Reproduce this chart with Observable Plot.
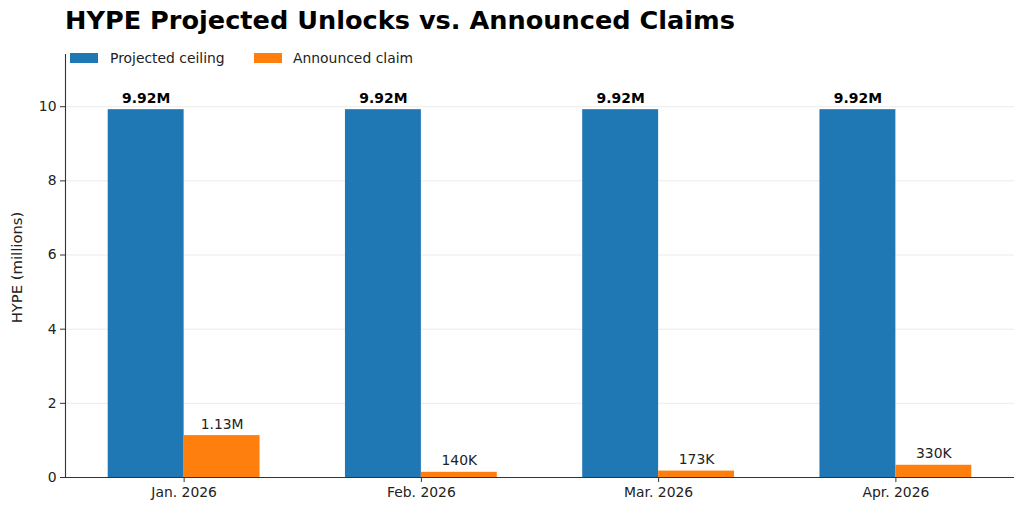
<!DOCTYPE html>
<html>
<head>
<meta charset="utf-8">
<script src="https://cdn.jsdelivr.net/npm/d3@7"></script>
<script src="https://cdn.jsdelivr.net/npm/@observablehq/plot@0.6"></script>
<style>
  html, body { margin: 0; padding: 0; background: #fff; }
  #wrap { position: relative; width: 1024px; height: 509px; font-family: "DejaVu Sans", sans-serif; overflow: hidden; }
  #title { height: 32px; padding-top: 8px; padding-left: 65px; font-size: 25.6px; line-height: 25px; font-weight: bold; color: #000; white-space: nowrap; }
  .sw { position: absolute; width: 28px; height: 9.5px; }
  .lt { position: absolute; font-size: 13.9px; line-height: 14px; color: #222; white-space: nowrap; }
  svg { display: block; }
</style>
</head>
<body>
<div id="wrap">
  <div id="title">HYPE Projected Unlocks vs. Announced Claims</div>
  <div id="chart"></div>
</div>
<script>
const months = ["Jan. 2026", "Feb. 2026", "Mar. 2026", "Apr. 2026"];
const seriesNames = ["Projected ceiling", "Announced claim"];
const seriesColors = ["#1f77b4", "#ff7f0e"];
const ceilingValues = [9.92, 9.92, 9.92, 9.92];
const claimValues = [1.13, 0.14, 0.173, 0.33];
const ceilingLabels = ["9.92M", "9.92M", "9.92M", "9.92M"];
const claimLabels = ["1.13M", "140K", "173K", "330K"];
const yTicks = [0, 2, 4, 6, 8, 10];
const yLabel = "HYPE (millions)";

const barW = 0.32;
const rows = [];
months.forEach((m, i) => {
  rows.push({i, series: seriesNames[0], value: ceilingValues[i], label: ceilingLabels[i], x1: i - barW, x2: i, bold: true});
  rows.push({i, series: seriesNames[1], value: claimValues[i], label: claimLabels[i], x1: i, x2: i + barW, bold: false});
});

const font = "DejaVu Sans, sans-serif";
const chart = Plot.plot({
  width: 1024,
  height: 469,
  marginTop: 14,
  marginBottom: 32,
  marginLeft: 65,
  marginRight: 10,
  style: {fontFamily: font, fontSize: "13.9px", color: "#222", background: "#fff"},
  x: {type: "linear", domain: [-0.5, 3.5]},
  y: {domain: [0, 11.408]},
  color: {domain: seriesNames, range: seriesColors},
  marks: [
    Plot.gridY(yTicks.filter(d => d > 0), {stroke: "#ebebeb", strokeOpacity: 1, strokeWidth: 1}),
    Plot.rectY(rows, {x1: "x1", x2: "x2", y1: 0, y2: "value", fill: "series", inset: 0}),
    Plot.text(rows.filter(d => d.bold), {x: d => (d.x1 + d.x2) / 2, y: "value", text: "label", lineAnchor: "bottom", dy: -7, fontWeight: "bold", fontSize: 13.9, fill: "#000"}),
    Plot.text(rows.filter(d => !d.bold), {x: d => (d.x1 + d.x2) / 2, y: "value", text: "label", lineAnchor: "bottom", dy: -7, fontSize: 13.9, fill: "#222"}),
    Plot.axisY({ticks: yTicks, tickSize: 5, tickPadding: 4, label: null, fontSize: 13.9, stroke: "#333"}),
    Plot.axisX({ticks: [0, 1, 2, 3], tickFormat: i => months[i], tickSize: 5, tickPadding: 5, label: null, fontSize: 13.9, stroke: "#333"}),
    Plot.ruleX([-0.5], {stroke: "#333", strokeWidth: 1.1}),
    Plot.ruleY([0], {stroke: "#333", strokeWidth: 1.1}),
    Plot.text([yLabel], {frameAnchor: "left", textAnchor: "middle", lineAnchor: "middle", rotate: -90, dx: -48.5, dy: 1.5, fontSize: 14.8, fill: "#222"})
  ]
});
document.getElementById("chart").appendChild(chart);

// Legend (HTML overlay, upper-left inside axes)
const wrap = document.getElementById("wrap");
const legendPos = [{sx: 70, tx: 110}, {sx: 254, tx: 293}];
seriesNames.forEach((name, k) => {
  const sw = document.createElement("div");
  sw.className = "sw";
  sw.style.left = legendPos[k].sx + "px";
  sw.style.top = "53px";
  sw.style.background = seriesColors[k];
  wrap.appendChild(sw);
  const t = document.createElement("div");
  t.className = "lt";
  t.style.left = legendPos[k].tx + "px";
  t.style.top = "50.7px";
  t.textContent = name;
  wrap.appendChild(t);
});
</script>
</body>
</html>
